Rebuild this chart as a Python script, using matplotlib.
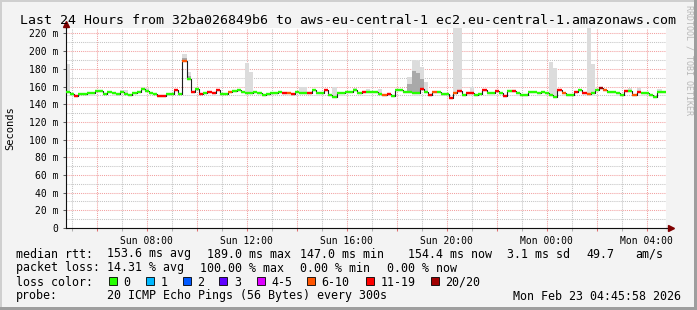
import matplotlib
matplotlib.use("Agg")
import matplotlib.pyplot as plt
import numpy as np
from matplotlib.patches import Rectangle

plt.rcParams["font.family"] = "DejaVu Sans Mono"

# 10-minute median RTT (ms), starting Sun 04:46
start_hour = 4 + 46 / 60
step_hours = 1 / 6
median_ms = [
    154.0, 152.0, 149.7, 152.0, 152.0, 152.5, 153.0, 155.5, 155.5, 152.0, 154.0, 152.5,
    152.0, 153.5, 152.0, 150.5, 152.5, 154.0, 157.0, 155.0, 153.0, 152.0, 149.7, 149.7,
    152.0, 152.0, 156.0, 152.0, 189.0, 169.0, 154.0, 157.0, 151.5, 153.0, 154.0, 152.3,
    156.0, 151.5, 151.5, 154.0, 155.0, 156.0, 154.0, 152.3, 152.3, 154.0, 153.0, 150.5,
    151.0, 152.3, 152.3, 154.0, 152.3, 153.0, 151.6, 154.0, 152.3, 152.3, 152.3, 156.0,
    152.3, 153.0, 156.0, 150.5, 148.6, 152.3, 152.3, 154.0, 154.0, 156.0, 153.0, 154.0,
    154.0, 154.0, 154.0, 152.0, 150.0, 151.6, 149.7, 156.0, 156.0, 154.0, 154.0, 152.3,
    152.3, 157.0, 154.0, 150.5, 154.0, 154.0, 151.6, 151.0, 147.0, 152.3, 155.0, 150.5,
    152.3, 152.3, 150.5, 151.0, 156.0, 152.3, 152.3, 155.4, 152.3, 149.7, 155.4, 155.0,
    152.3, 150.5, 150.5, 154.0, 154.0, 152.3, 154.0, 152.3, 150.5, 148.6, 156.0, 152.3,
    150.5, 150.5, 154.0, 156.0, 152.3, 151.6, 153.0, 156.0, 158.0, 156.0, 154.0, 154.0,
    152.3, 150.5, 155.4, 155.4, 150.5, 154.0, 152.3, 152.3, 150.5, 147.8, 154.0, 154.0,
]
# lost pings out of 20 per slot
lost_pings = [
    0, 0, 14, 0, 0, 0, 0, 0, 0, 0, 0, 0,
    0, 0, 0, 0, 0, 0, 0, 0, 0, 0, 14, 14,
    0, 0, 14, 0, 8, 0, 14, 0, 14, 0, 14, 14,
    14, 0, 0, 8, 0, 0, 0, 0, 0, 0, 0, 0,
    0, 0, 0, 0, 14, 8, 14, 0, 0, 0, 14, 0,
    0, 0, 14, 0, 0, 0, 0, 0, 0, 0, 0, 14,
    0, 0, 0, 0, 8, 14, 0, 0, 0, 0, 0, 0,
    0, 14, 0, 14, 8, 0, 0, 0, 14, 8, 14, 0,
    14, 14, 0, 0, 14, 0, 0, 14, 0, 14, 0, 14,
    0, 0, 0, 0, 0, 0, 0, 0, 0, 0, 14, 8,
    0, 0, 14, 0, 14, 8, 0, 0, 20, 8, 0, 0,
    0, 0, 14, 0, 8, 14, 0, 0, 0, 0, 0, 0,
]

# smoke (spread of the 20 pings) where visible
smoke_slot = [0, 13, 14, 18, 19, 28, 29, 43, 44, 56, 57, 64, 69, 72, 75,
              82, 83, 84, 85, 86, 93, 94, 97, 116, 117, 125, 126, 135, 137, 142]
smoke_top = [186, 156, 156, 158, 158, 197, 176, 187, 177, 160, 159, 159, 158, 157, 157,
             171, 190, 189, 182, 165, 300, 300, 159, 188, 181, 300, 185, 158, 158, 157]
smoke_core = [np.nan, np.nan, np.nan, np.nan, np.nan, 192, 172, np.nan, np.nan, np.nan,
              np.nan, np.nan, np.nan, np.nan, np.nan, 163, 178, 175, 168, np.nan,
              np.nan, np.nan, np.nan, np.nan, np.nan, np.nan, np.nan, np.nan, np.nan, np.nan]

loss_labels = ["0", "1", "2", "3", "4-5", "6-10", "11-19", "20/20"]
loss_upper = [0, 1, 2, 3, 5, 10, 19, 20]
loss_colors = ["#26ff00", "#00b8ff", "#0059ff", "#5e00ff", "#dd00ff", "#ff5500", "#ff0000", "#a10000"]

stats_rtt = ["median rtt:", "153.6 ms avg", "189.0 ms max", "147.0 ms min",
             "154.4 ms now", "3.1 ms sd", "49.7", "am/s"]
stats_loss = ["packet loss:", "14.31 % avg", "100.00 % max", "0.00 % min", "0.00 % now"]
title = "Last 24 Hours from 32ba026849b6 to aws-eu-central-1 ec2.eu-central-1.amazonaws.com"
probe = ["probe:", "20 ICMP Echo Pings (56 Bytes) every 300s", "Mon Feb 23 04:45:58 2026"]

W, H = 697, 310
fig = plt.figure(figsize=(W / 100, H / 100), dpi=100, facecolor="#f3f3f3")


def fx(x):
    return x / W


def fy(y):
    return 1 - y / H


ax = fig.add_axes([fx(65.7), fy(228), 600 / W, 200 / H])
ax.set_facecolor("white")

med = np.array(median_ms)
n = len(med)
t = start_hour + np.arange(n) * step_hours

# smoke
sl = np.array(smoke_slot)
top = np.array(smoke_top, dtype=float)
core = np.array(smoke_core, dtype=float)
ax.bar(t[sl], top - med[sl], bottom=med[sl], width=step_hours, align="edge",
       color="#dcdcdc", linewidth=0, zorder=2)
m = ~np.isnan(core)
ax.bar(t[sl][m], core[m] - med[sl][m], bottom=med[sl][m], width=step_hours,
       align="edge", color="#a9a9a9", linewidth=0, zorder=2)

# thin median line, then loss-coloured bands
ax.plot(np.append(t, t[-1] + step_hours), np.append(med, med[-1]),
        drawstyle="steps-post", color="#202020", lw=0.8, zorder=3)
bins = np.searchsorted(loss_upper, lost_pings)
seg_colors = [loss_colors[b] for b in bins]
ax.hlines(med, t, t + step_hours, colors=seg_colors, linewidth=1.7,
          capstyle="butt", zorder=4)

ax.set_xlim(start_hour, start_hour + 24)
ax.set_ylim(0, 226.2)

major_x = np.arange(6, 29, 2)
ax.set_xticks(major_x)
ax.set_xticks(np.arange(5, 29, 1), minor=True)
ax.set_xticklabels([("Sun" if h < 24 else "Mon") + f" {h % 24:02d}:00" if h % 4 == 0 else ""
                    for h in major_x])
ax.set_yticks(np.arange(0, 221, 20))
ax.set_yticks(np.arange(10, 221, 20), minor=True)
ax.set_yticklabels(["0" if v == 0 else f"{v} m" for v in np.arange(0, 221, 20)])

dots = (0, (1, 1))
ax.grid(which="major", color="#f2a0a0", ls=dots, lw=0.75)
ax.grid(which="minor", color="#c4c4c4", ls=dots, lw=0.75)
ax.set_axisbelow(True)

ax.tick_params(axis="x", which="major", direction="out", length=2.5, width=0.75,
               color="#e07070", pad=3, labelsize=7)
ax.tick_params(axis="x", which="minor", direction="out", length=2.5, width=0.75,
               color="#b0b0b0")
ax.tick_params(axis="y", which="major", direction="out", length=2.5, width=0.75,
               color="#606060", pad=3, labelsize=7)
ax.tick_params(axis="y", which="minor", length=0)

for s in ("top", "right"):
    ax.spines[s].set_visible(False)
for s in ("left", "bottom"):
    ax.spines[s].set_color("#101010")
    ax.spines[s].set_linewidth(0.8)

# axis arrows
ax.plot([0, 0], [1, 1.02], color="#101010", lw=0.8, transform=ax.transAxes, clip_on=False)
ax.plot(0, 1.022, marker="^", ms=3.8, color="#7f0000", transform=ax.transAxes, clip_on=False)
ax.plot([1, 1.008], [0, 0], color="#101010", lw=0.8, transform=ax.transAxes, clip_on=False)
ax.plot(1.009, 0, marker=">", ms=3.8, color="#7f0000", transform=ax.transAxes, clip_on=False)

# texts
fig.text(fx(348), fy(24), title, fontsize=9.5, ha="center", va="baseline")
fig.text(fx(10), fy(128), "Seconds", fontsize=7.5, rotation=90, ha="center", va="center")
fig.text(fx(689), fy(60), "RRDTOOL / TOBI OETIKER", fontsize=6, rotation=270,
         ha="center", va="center", color="#b8b8b8")

fs = 8.4
for s, x in zip(stats_rtt, [16, 107, 207, 300, 407.7, 506.7, 586.7, 635]):
    fig.text(fx(x), fy(257.5), s, fontsize=fs, va="baseline")
for s, x in zip(stats_loss, [16, 107, 200, 300, 386.7]):
    fig.text(fx(x), fy(271.5), s, fontsize=fs, va="baseline")
fig.text(fx(16), fy(285.5), "loss color:", fontsize=fs, va="baseline")
box_x = [108.7, 145.7, 182.7, 219.3, 256.7, 306.7, 365.7, 430.7]
for lab, col, x in zip(loss_labels, loss_colors, box_x):
    fig.patches.append(Rectangle((fx(x), fy(285)), 8 / W, 8 / H, transform=fig.transFigure,
                                 facecolor=col, edgecolor="black", lw=0.6))
    fig.text(fx(x + 14.5), fy(285.5), lab, fontsize=fs, va="baseline")
for s, x in zip(probe, [16, 107, 512.7]):
    fig.text(fx(x), fy(299.5), s, fontsize=fs, va="baseline")

# 3D frame
for (x0, y0, w, h, c) in [(0, 1 - 2 / H, 1, 2 / H, "#cfcfcf"), (0, 0, 2 / W, 1, "#cfcfcf"),
                          (0, 0, 1, 3 / H, "#9e9e9e"), (1 - 3 / W, 0, 3 / W, 1, "#9e9e9e")]:
    fig.patches.append(Rectangle((x0, y0), w, h, transform=fig.transFigure,
                                 facecolor=c, edgecolor="none"))

fig.savefig("out.png", dpi=100, facecolor=fig.get_facecolor())
